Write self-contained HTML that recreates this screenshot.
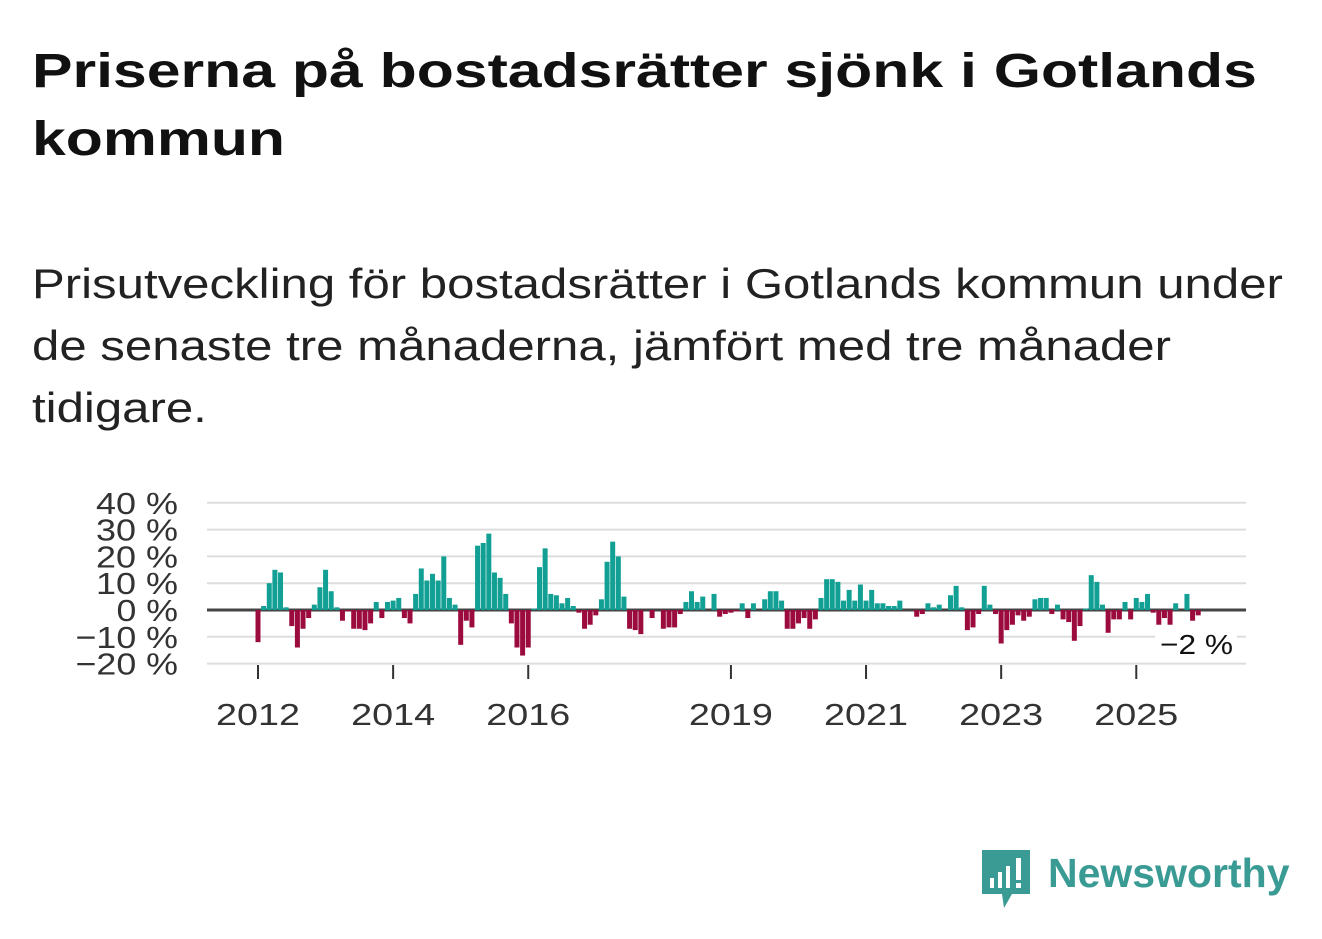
<!DOCTYPE html>
<html><head><meta charset="utf-8"><style>
body{margin:0;width:1322px;height:939px;background:#fff;font-family:"Liberation Sans",sans-serif;color:#111;position:relative;overflow:hidden}
.t{position:absolute;left:32px;font-size:48px;font-weight:bold;white-space:nowrap;transform-origin:0 0;color:#111}
.s{position:absolute;left:32px;font-size:42px;white-space:nowrap;transform-origin:0 0;color:#222}
svg{position:absolute;left:0;top:0}
</style></head><body>
<div>
<div class="t" style="top:44px;transform:scaleX(1.265)">Priserna på bostadsrätter sjönk i Gotlands</div>
<div class="t" style="top:112px;transform:scaleX(1.265)">kommun</div>
</div>
<div>
<div class="s" style="top:260px;transform:scaleX(1.17)">Prisutveckling för bostadsrätter i Gotlands kommun under</div>
<div class="s" style="top:322px;transform:scaleX(1.17)">de senaste tre månaderna, jämfört med tre månader</div>
<div class="s" style="top:384px;transform:scaleX(1.17)">tidigare.</div>
</div>
<svg id="chart" width="1322" height="939"></svg>
<div style="position:absolute;left:982px;top:850px;">
<svg width="50" height="60" style="position:absolute;left:0;top:0"><path d="M0 0H48V44H30L22 58L20 44H0Z" fill="#3a9a94"/><rect x="8" y="28" width="4" height="10" fill="#fff"/><rect x="16" y="22" width="4" height="16" fill="#fff"/><rect x="24" y="16" width="4" height="22" fill="#fff"/><rect x="34" y="8" width="5" height="22" fill="#fff"/><rect x="34" y="33" width="5" height="5" fill="#fff"/></svg>
<span style="position:absolute;left:66px;top:0;font-size:41px;font-weight:bold;color:#3a9a94;white-space:nowrap">Newsworthy</span></div>
<script>
const values=[-12,1.5,10,15,14,1,-6,-14,-7,-3,2,8.5,15,7,1,-4,-0.5,-7,-7,-7.5,-5,3,-3,3,3.5,4.5,-3,-5,6,15.5,11,13.5,11,20,4.5,2,-13,-4,-6.5,24,25,28.5,14,12,6,-5,-14,-17,-14,0.5,16,23,6,5.5,2.5,4.5,1.5,-1,-7,-5.5,-2,4,18,25.5,20,5,-7,-7.5,-9,0,-3,0,-7,-6.5,-6.5,-1.5,3,7,3,5,0,6,-2.5,-1.5,-1,-0.5,2.5,-3,2.5,0,4,7,7,3.5,-7,-7,-5,-3,-7,-3.5,4.5,11.5,11.5,10.5,3.5,7.5,3.5,9.5,3.5,7.5,2.5,2.5,1.5,1.5,3.5,0,0,-2.5,-1.5,2.5,1,2,0,5.5,9,1,-7.5,-6.5,-1.5,9,2,-1.5,-12.5,-7.5,-5.5,-2,-4,-2.5,4,4.5,4.5,-1.5,2,-3.5,-4.5,-11.5,-6,0.5,13,10.5,2,-8.5,-3.5,-3.5,3,-3.5,4.5,3,6,-1,-5.5,-3,-5.5,2.5,0,6,-4,-2];
const startYear=2012;
const xTickYears=[2012,2014,2016,2019,2021,2023,2025];
const yTicks=[40,30,20,10,0,-10,-20];
const lastLabel="−2 %";
const svg=document.getElementById('chart');const NS="http://www.w3.org/2000/svg";
const x=i=>258+i*5.63;const y=v=>610-v*2.68;
function el(t,a){const e=document.createElementNS(NS,t);for(const k in a)e.setAttribute(k,a[k]);svg.appendChild(e);return e;}
yTicks.forEach(v=>{
 const g=el('line',{x1:207,x2:1246,y1:y(v),y2:y(v),stroke:v===0?'#444':'#ddd','stroke-width':v===0?3:2});
 
 
 const s=(v<0?'−'+(-v):String(v))+' %';
 const t=el('text',{x:178,y:y(v)+11,'text-anchor':'end','font-size':31,fill:'#333','font-family':'Liberation Sans, sans-serif',textLength:s.length*20.5,lengthAdjust:'spacingAndGlyphs'});
 t.textContent=s;
 
 
});
values.forEach((v,i)=>{
 const r=el('rect',{x:x(i)-2.5,width:5,y:v>=0?y(v):y(0),height:Math.abs(y(v)-y(0)),fill:v>=0?'#12a095':'#9c0b3e'});
 
 
});
xTickYears.forEach(yr=>{
 const xi=x((yr-startYear)*12);
 const l=el('line',{x1:xi,x2:xi,y1:665,y2:679,stroke:'#333','stroke-width':2});
 
 
 const t=el('text',{x:xi,y:725,'text-anchor':'middle','font-size':31,fill:'#333','font-family':'Liberation Sans, sans-serif',textLength:84,lengthAdjust:'spacingAndGlyphs'});
 t.textContent=yr;
 
 
});
const bg=el('rect',{x:1155,y:625,width:82,height:36,fill:'#fff'});


const lt=el('text',{x:1160,y:654,'font-size':28,fill:'#111','font-family':'Liberation Sans, sans-serif',textLength:73,lengthAdjust:'spacingAndGlyphs'});
lt.textContent=lastLabel;


</script>
</body></html>
